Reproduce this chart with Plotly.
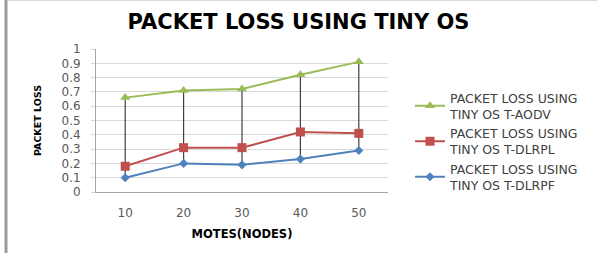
import plotly.graph_objects as go

categories = ["10", "20", "30", "40", "50"]
aodv = [0.66, 0.71, 0.72, 0.82, 0.91]
dlrpl = [0.18, 0.31, 0.31, 0.42, 0.41]
dlrpf = [0.10, 0.20, 0.19, 0.23, 0.29]
y_ticks = [0, 0.1, 0.2, 0.3, 0.4, 0.5, 0.6, 0.7, 0.8, 0.9, 1]

series = [
    ("PACKET LOSS USING<br>TINY OS T-AODV", aodv, "#9BBB59", "triangle-up", 9),
    ("PACKET LOSS USING<br>TINY OS T-DLRPL", dlrpl, "#C0504D", "square", 9),
    ("PACKET LOSS USING<br>TINY OS T-DLRPF", dlrpf, "#4F81BD", "diamond", 7),
]

# high-low lines built from the data
hx, hy = [], []
for i, c in enumerate(categories):
    vals = [aodv[i], dlrpl[i], dlrpf[i]]
    hx += [c, c, None]
    hy += [min(vals), max(vals), None]

fig = go.Figure()
fig.add_trace(go.Scatter(x=hx, y=hy, mode="lines", line=dict(color="#404040", width=1.2),
                         showlegend=False, hoverinfo="skip"))
for i, (name, vals, color, sym, size) in enumerate(series):
    fig.add_trace(go.Scatter(x=categories, y=vals, name=name, mode="lines+markers",
                             line=dict(color=color, width=2),
                             marker=dict(symbol=sym, size=size, color=color),
                             legendgroup=f"g{i}"))

L, R, T, B = 96, 209, 49, 61
W, H = 597, 253
pw = W - L - R
ph = H - T - B
FONT = "DejaVu Sans, Verdana, sans-serif"

def px_x(p):
    return (p - L) / pw

def px_y(p):
    return (H - B - p) / ph

fig.update_layout(
    width=W, height=H,
    margin=dict(l=L, r=R, t=T, b=B),
    paper_bgcolor="white", plot_bgcolor="white",
    font=dict(family=FONT, size=11, color="#595959"),
    title=dict(text="<b>PACKET LOSS USING TINY OS</b>", x=0.5, xref="container", xanchor="center",
               y=1 - 22 / H, yanchor="middle",
               font=dict(size=21, color="#000000", family=FONT)),
    showlegend=True,
    legend=dict(x=px_x(410), y=px_y(83), xanchor="left", yanchor="top",
                font=dict(size=12.5, color="#404040", family=FONT), tracegroupgap=0,
                bgcolor="rgba(0,0,0,0)", itemwidth=30),
    xaxis=dict(type="category", range=[-0.5, 4.5], showgrid=False,
               showline=True, linecolor="#A6A6A6", linewidth=1,
               ticks="outside", ticklen=10, tickcolor="rgba(0,0,0,0)",
               tickfont=dict(size=12, color="#595959", family=FONT),
               title=dict(text="<b>MOTES(NODES)</b>", font=dict(size=11.5, color="#000000", family=FONT),
                          standoff=10)),
    yaxis=dict(range=[0, 1], tickvals=y_ticks, ticktext=[f"{v:g}" for v in y_ticks],
               showgrid=True, gridcolor="#D9D9D9", gridwidth=1,
               showline=True, linecolor="#A6A6A6", linewidth=1,
               ticks="outside", ticklen=4, tickcolor="#D9D9D9", ticklabelstandoff=8,
               zeroline=False, tickfont=dict(size=12, color="#595959", family=FONT),
               title=dict(text="<b>PACKET LOSS</b>", font=dict(size=9.5, color="#000000", family=FONT),
                          standoff=18)),
    shapes=[
        dict(type="line", xref="paper", yref="paper", x0=px_x(6), x1=px_x(6), y0=px_y(0), y1=px_y(H),
             line=dict(color="#9A9A9A", width=3)),
        dict(type="line", xref="paper", yref="paper", x0=px_x(7), x1=px_x(W), y0=px_y(0.5), y1=px_y(0.5),
             line=dict(color="#D9D9D9", width=1)),
    ],
)

fig.write_html("out.html", config={"displayModeBar": False},
               post_script="document.body.style.margin='0';document.body.style.padding='0';")
